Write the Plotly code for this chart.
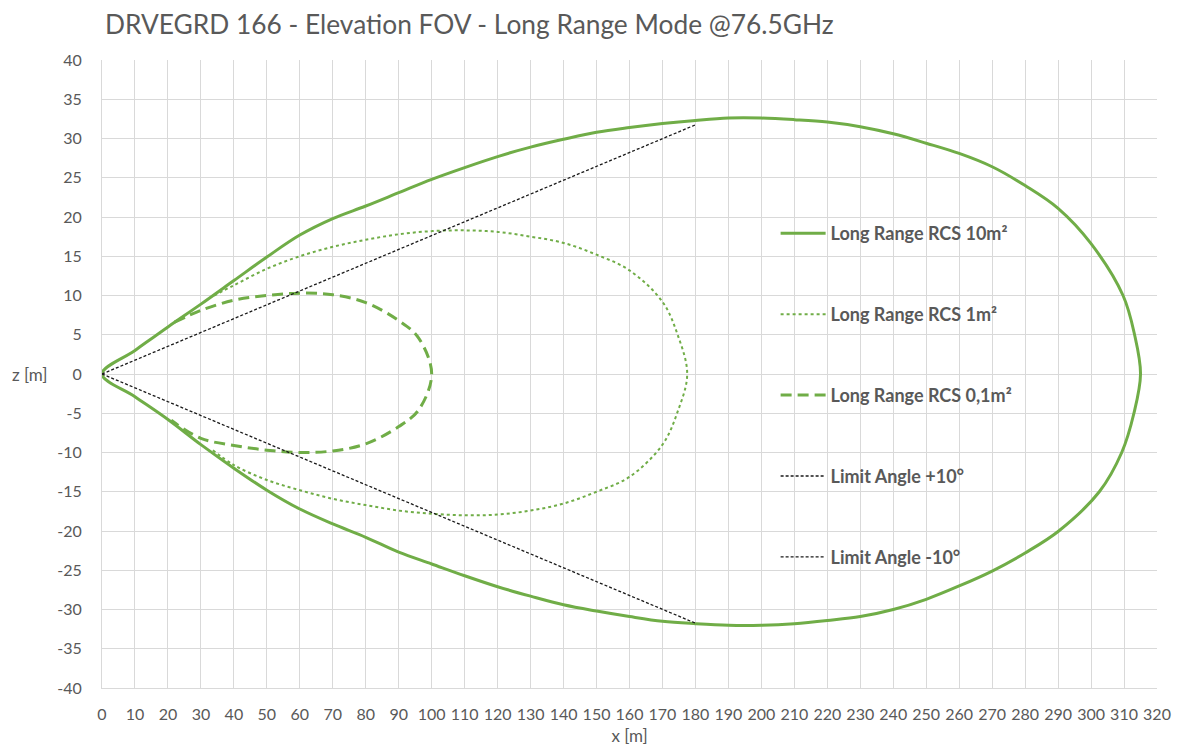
import plotly.graph_objects as go

# ---- data ----
x_rcs10 = [0, 10, 20, 30, 40, 50, 60, 70, 80, 90, 100, 110, 120, 130, 140, 150, 160, 170, 180,
           190, 200, 210, 220, 230, 240, 250, 260, 270, 280, 290, 300, 309.7, 313.2, 315,
           313, 309.3, 302.5, 290.2, 280, 270, 260, 250, 240, 230, 220, 210, 200, 190,
           180, 170, 160, 150, 140, 130, 120, 110, 100, 90, 80, 70, 60, 50, 40, 30, 20, 10, 0]
z_rcs10 = [0, 3.0, 6.0, 8.9, 11.9, 14.9, 17.7, 19.8, 21.4, 23.1, 24.8, 26.3, 27.7, 28.9, 29.9, 30.8, 31.4, 31.9, 32.3,
           32.6, 32.6, 32.4, 32.1, 31.5, 30.6, 29.4, 28.1, 26.4, 24.0, 21.1, 16.6, 10.0, 5.0, 0,
           -5.0, -10.0, -15.0, -20.0, -22.8, -25.1, -27.0, -28.7, -30.0, -30.9, -31.4, -31.8, -32.0, -32.0,
           -31.8, -31.5, -30.9, -30.2, -29.4, -28.3, -27.1, -25.7, -24.2, -22.7, -20.8, -19.1, -17.2, -14.8, -12.0, -9.0, -5.8, -2.9, 0]

x_rcs1 = [34, 40, 50, 60, 70, 80, 90, 100, 110, 120, 130, 140, 150, 160, 170, 174.6, 177.5,
          174.6, 170, 160, 150, 140, 130, 120, 110, 100, 90, 80, 70, 60, 50, 40, 33]
z_rcs1 = [10.0, 11.3, 13.4, 15.0, 16.2, 17.1, 17.8, 18.2, 18.3, 18.1, 17.5, 16.7, 15.2, 13.2, 9.2, 5.0, 0,
          -4.8, -9.0, -13.1, -15.0, -16.5, -17.4, -17.9, -18.0, -17.8, -17.4, -16.7, -15.9, -14.8, -13.5, -11.6, -9.5]

x_rcs01 = [22, 30, 40, 50, 60, 70, 80, 90, 96, 100, 96, 90, 80, 70, 60, 50, 40, 30, 21]
z_rcs01 = [6.6, 8.1, 9.4, 10.0, 10.3, 10.1, 9.1, 6.8, 4.6, 0, -4.6, -6.7, -8.9, -9.8, -10.0, -9.7, -9.1, -8.2, -5.9]

x_lim_pos = [0, 180]
z_lim_pos = [0, 31.74]
x_lim_neg = [0, 180]
z_lim_neg = [0, -31.74]

names = ["Long Range RCS 10m²", "Long Range RCS 1m²", "Long Range RCS 0,1m²",
         "Limit Angle +10°", "Limit Angle -10°"]

x_ticks = list(range(0, 321, 10))
z_ticks = list(range(-40, 41, 5))

GREEN = "#70AD47"
GREY = "#595959"
FONT = "Lato"

fig = go.Figure()
fig.add_trace(go.Scatter(x=x_rcs10, y=z_rcs10, mode="lines", name=names[0], legendgroup="a",
                         line=dict(color=GREEN, width=3, shape="spline", smoothing=1.0)))
fig.add_trace(go.Scatter(x=x_rcs1, y=z_rcs1, mode="lines", name=names[1], legendgroup="b",
                         line=dict(color=GREEN, width=2, dash="dot", shape="spline", smoothing=1.0)))
fig.add_trace(go.Scatter(x=x_rcs01, y=z_rcs01, mode="lines", name=names[2], legendgroup="c",
                         line=dict(color=GREEN, width=3, dash="11px,6px", shape="spline", smoothing=1.0)))
fig.add_trace(go.Scatter(x=x_lim_pos, y=z_lim_pos, mode="lines", name=names[3], legendgroup="d",
                         line=dict(color="#1a1a1a", width=1.3, dash="3px,2px")))
fig.add_trace(go.Scatter(x=x_lim_neg, y=z_lim_neg, mode="lines", name=names[4], legendgroup="e",
                         line=dict(color="#1a1a1a", width=1.3, dash="3px,2px")))

fig.update_layout(
    width=1181, height=749,
    margin=dict(l=94, r=32, t=52, b=69),
    paper_bgcolor="white", plot_bgcolor="white",
    font=dict(family=FONT, color=GREY, size=16),
    title=dict(text="DRVEGRD 166 - Elevation FOV - Long Range Mode @76.5GHz",
               x=97 / 1181, xref="container", xanchor="left", y=0.977, yref="container", yanchor="middle",
               font=dict(family=FONT, size=26.3, color=GREY)),
    showlegend=True,
    legend=dict(x=0.6385, y=0.753, xanchor="left", yanchor="top",
                bgcolor="rgba(255,255,255,0)", tracegroupgap=54.5, itemwidth=45,
                font=dict(family=FONT, size=18, color=GREY, weight="bold")),
    xaxis=dict(range=[0, 320], tickvals=x_ticks, ticktext=[str(v) for v in x_ticks],
               showgrid=True, gridcolor="#D9D9D9", gridwidth=1, zeroline=False,
               showline=True, linecolor="#D9D9D9", ticks="", tickfont=dict(size=16, color=GREY),
               ticklabelstandoff=12,
               title=dict(text="x [m]", font=dict(size=17, color=GREY), standoff=7)),
    yaxis=dict(range=[-40, 40], tickvals=z_ticks, ticktext=[str(v) for v in z_ticks],
               showgrid=True, gridcolor="#D9D9D9", gridwidth=1, zeroline=False,
               showline=True, linecolor="#D9D9D9", ticks="", tickfont=dict(size=16, color=GREY),
               ticklabelstandoff=16),
    annotations=[dict(text="z [m]", xref="paper", yref="y", x=-0.0872, y=0, xanchor="left",
                      yanchor="middle", showarrow=False, font=dict(size=17, color=GREY))],
)

fig.write_html("out.html")
